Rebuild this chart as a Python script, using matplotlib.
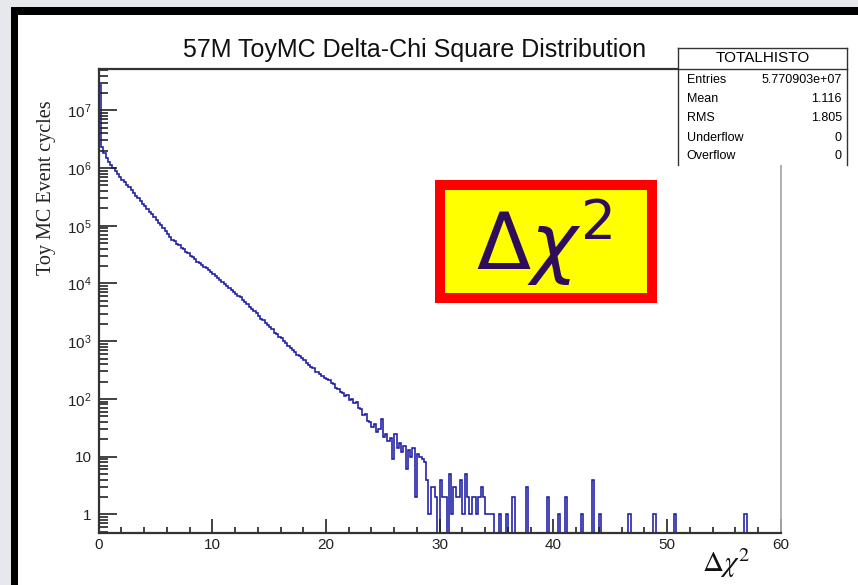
import numpy as np
import matplotlib.pyplot as plt
from matplotlib.patches import Rectangle
from matplotlib.lines import Line2D
from matplotlib.ticker import FixedLocator, FixedFormatter, LogLocator, MultipleLocator

plt.rcParams['font.family'] = ['Liberation Sans', 'DejaVu Sans']

# histogram bins: 0.2 wide from 0 to 60
bin_width = 0.2
n_bins = 300

# counts, bins 0.0 - 35.0 (10 bins per row = 2 units)
counts_main = [
    27500000, 2291000, 1820000, 1514000, 1288000, 1122000, 1000000, 891000, 794000, 708000,
    631000, 575000, 513000, 468000, 417000, 372000, 331000, 302000, 269000, 240000,
    219000, 195000, 174000, 158000, 141000, 126000, 112000, 102000, 91200, 81300,
    72400, 64600, 57500, 53700, 49000, 45700, 41700, 38900, 35500, 33100,
    30200, 28200, 26300, 24000, 22400, 20900, 19500, 18200, 17000, 15500,
    14500, 13500, 12300, 11500, 10700, 9770, 9120, 8510, 7760, 7240,
    6610, 6170, 5750, 5250, 4790, 4370, 3980, 3630, 3310, 3020,
    2750, 2460, 2290, 2090, 1910, 1740, 1610, 1400, 1320, 1200,
    1130, 1000, 912, 832, 770, 705, 646, 585, 550, 501,
    470, 417, 390, 350, 342, 296, 288, 265, 250, 234,
    225, 214, 188, 182, 156, 150, 134, 128, 111, 116,
    96, 101, 84, 88, 69, 66, 52, 55, 41, 40,
    33, 37, 27, 30, 44, 22, 25, 19, 21, 9,
    25, 14, 17, 12, 15, 6, 13, 10, 14, 2,
    11, 10, 9, 8, 4, 1, 3, 3, 2, 0,
    4, 2, 2, 0, 5, 1, 3, 2, 2, 4,
    1, 5, 2, 1, 2, 2, 1, 2, 3, 2,
    1, 1, 1, 1, 0,
]

# isolated entries in the far tail
spike_x = [35.36, 35.83, 36.56, 37.79, 39.45, 40.57, 41.01, 42.54, 43.42, 44.18, 46.67, 48.92, 50.77, 56.89]
spike_n = [1, 1, 2, 3, 2, 1, 2, 1, 4, 1, 1, 1, 1, 1]

ytick_vals = [1, 10, 1e2, 1e3, 1e4, 1e5, 1e6, 1e7]
ytick_labels = ['1', '10', r'$\mathregular{10^{2}}$', r'$\mathregular{10^{3}}$',
                r'$\mathregular{10^{4}}$', r'$\mathregular{10^{5}}$',
                r'$\mathregular{10^{6}}$', r'$\mathregular{10^{7}}$']

stat_names = ['Entries', 'Mean', 'RMS', 'Underflow', 'Overflow']
stat_values = ['5.770903e+07', '1.116', '1.805', '0', '0']

W, H = 858, 585
fig = plt.figure(figsize=(W / 100, H / 100), dpi=100)
fig.patch.set_facecolor('#e6e8ec')


def fx(x):
    return x / W


def fy(y):
    return 1 - y / H


def prect(x0, y0, x1, y1, **kw):
    r = Rectangle((fx(x0), fy(y1)), (x1 - x0) / W, (y1 - y0) / H,
                  transform=fig.transFigure, **kw)
    fig.add_artist(r)
    return r


# window frame
prect(11, 7.3, W + 5, H + 5, facecolor='black', edgecolor='none', zorder=-20)
prect(18.3, 15, W + 5, H + 5, facecolor='white', edgecolor='none', zorder=-19)

ax = fig.add_axes([fx(98.7), fy(532.7), (780.7 - 98.7) / W, (532.7 - 69) / H])
ax.set_facecolor('white')

edges = np.linspace(0, n_bins * bin_width, n_bins + 1)
counts = np.zeros(n_bins)
counts[:len(counts_main)] = counts_main
counts += np.histogram(spike_x, bins=edges, weights=spike_n)[0]
draw_counts = np.where(counts > 0, counts, 0.05)

ax.stairs(draw_counts, edges, baseline=None, color='#1c1ca6', lw=1.15)

ax.set_yscale('log')
ax.set_xlim(0, 60)
ax.set_ylim(0.48, 5.2e7)

ax.xaxis.set_major_locator(MultipleLocator(10))
ax.xaxis.set_minor_locator(MultipleLocator(2))
ax.yaxis.set_major_locator(FixedLocator(ytick_vals))
ax.yaxis.set_major_formatter(FixedFormatter(ytick_labels))
ax.yaxis.set_minor_locator(LogLocator(base=10, subs=range(2, 10), numticks=20))

ax.tick_params(which='both', direction='in', top=False, right=False, colors='#222222')
ax.tick_params(axis='x', which='major', length=10, width=1.2, labelsize=11, pad=4)
ax.tick_params(axis='x', which='minor', length=4.5, width=1.2)
ax.tick_params(axis='y', which='major', length=13, width=1.2, labelsize=11, pad=5)
ax.tick_params(axis='y', which='minor', length=6.5, width=1.2)

for s in ['left', 'bottom', 'top']:
    ax.spines[s].set_color('#333333')
    ax.spines[s].set_linewidth(1.6)
ax.spines['right'].set_color('#aaaaaa')
ax.spines['right'].set_linewidth(1.3)

fig.text(fx(415), fy(57), '57M ToyMC Delta-Chi Square Distribution',
         fontsize=18, ha='center', va='baseline', color='#111111')
fig.text(fx(47), fy(188), 'Toy MC Event cycles', rotation=90,
         family='Liberation Serif', fontsize=14.5, ha='center', va='center', color='#222222')
fig.text(fx(702), fy(572), r'$\Delta\chi^2$', fontsize=21, math_fontfamily='stix',
         ha='left', va='baseline', color='#111111')

# stats box
prect(678.3, 48.3, 846.7, 165, facecolor='white', edgecolor='none', zorder=10)
for (x0, y0, x1, y1) in [(678.3, 48.3, 846.7, 48.3), (678.3, 48.3, 678.3, 165),
                         (846.7, 48.3, 846.7, 165), (678.3, 69.3, 846.7, 69.3)]:
    fig.add_artist(Line2D([fx(x0), fx(x1)], [fy(y0), fy(y1)], transform=fig.transFigure,
                          color='#333333', lw=1.0, zorder=11))
fig.text(fx(763), fy(58.3), 'TOTALHISTO', fontsize=11, ha='center', va='center', zorder=12)
row_y = [80, 99, 118.5, 138, 156.5]
for name, val, yy in zip(stat_names, stat_values, row_y):
    fig.text(fx(686.7), fy(yy), name, fontsize=9, ha='left', va='center', zorder=12)
    fig.text(fx(841.7), fy(yy), val, fontsize=9, ha='right', va='center', zorder=12)

# highlighted label box
box = prect(440, 185, 651.7, 298.3, facecolor='#ffff00', edgecolor='#ff0000',
            lw=7.2, joinstyle='miter', zorder=10)
fig.text(fx(476), fy(270), r'$\Delta\chi^2$', fontsize=57, color='#2e0e5a',
         math_fontfamily='dejavusans', ha='left', va='baseline', zorder=12)

fig.savefig('out.png', dpi=100)
